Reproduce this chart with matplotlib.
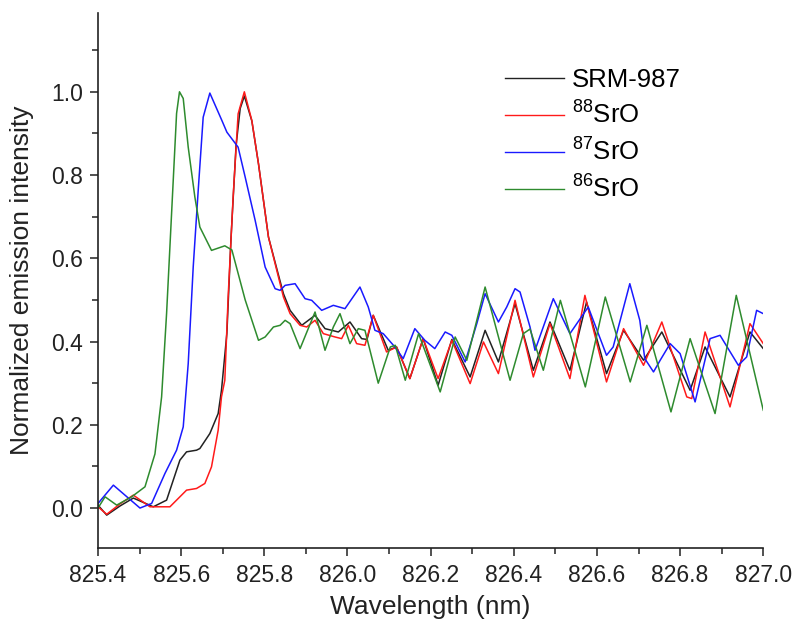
import matplotlib
matplotlib.use('Agg')
import matplotlib.pyplot as plt
from matplotlib.ticker import MultipleLocator

plt.rcParams['font.family'] = ['Liberation Sans', 'DejaVu Sans']
plt.rcParams['mathtext.fontset'] = 'custom'
plt.rcParams['mathtext.rm'] = 'Liberation Sans'
plt.rcParams['mathtext.it'] = 'Liberation Sans'

# SRM-987 (black)
x_srm = [825.400, 825.421, 825.453, 825.485, 825.533, 825.565, 825.597, 825.613, 825.637, 825.645,
         825.669, 825.689, 825.697, 825.710, 825.720, 825.732, 825.742, 825.752, 825.770, 825.786,
         825.810, 825.830, 825.846, 825.862, 825.890, 825.922, 825.946, 825.978, 826.006, 826.034,
         826.047, 826.062, 826.098, 826.118, 826.150, 826.182, 826.218, 826.251, 826.295, 826.331,
         826.363, 826.403, 826.447, 826.487, 826.535, 826.575, 826.623, 826.664, 826.712, 826.756,
         826.824, 826.860, 826.920, 826.968, 827.000]
y_srm = [0.007, -0.017, 0.005, 0.024, 0.003, 0.019, 0.115, 0.135, 0.139, 0.143,
         0.179, 0.227, 0.283, 0.420, 0.650, 0.870, 0.960, 0.990, 0.930, 0.827,
         0.651, 0.575, 0.515, 0.475, 0.439, 0.463, 0.431, 0.423, 0.447, 0.407,
         0.405, 0.463, 0.379, 0.387, 0.311, 0.407, 0.295, 0.405, 0.315, 0.427,
         0.351, 0.491, 0.331, 0.447, 0.331, 0.495, 0.323, 0.427, 0.355, 0.423,
         0.283, 0.387, 0.267, 0.423, 0.383]

# 88SrO (red)
x_88 = [825.400, 825.421, 825.453, 825.485, 825.525, 825.573, 825.597, 825.613, 825.637, 825.657,
        825.673, 825.689, 825.697, 825.705, 825.713, 825.725, 825.737, 825.752, 825.770, 825.786,
        825.810, 825.830, 825.846, 825.862, 825.886, 825.902, 825.922, 825.942, 825.970, 825.986,
        826.002, 826.022, 826.042, 826.062, 826.094, 826.118, 826.150, 826.182, 826.218, 826.251,
        826.295, 826.327, 826.363, 826.403, 826.447, 826.487, 826.535, 826.571, 826.623, 826.664,
        826.712, 826.756, 826.816, 826.828, 826.860, 826.920, 826.968, 827.000]
y_88 = [0.003, -0.015, 0.010, 0.031, 0.003, 0.003, 0.027, 0.043, 0.047, 0.059,
        0.099, 0.187, 0.267, 0.307, 0.507, 0.747, 0.947, 1.000, 0.931, 0.827,
        0.651, 0.571, 0.507, 0.467, 0.439, 0.435, 0.451, 0.419, 0.411, 0.407,
        0.439, 0.395, 0.391, 0.463, 0.375, 0.387, 0.311, 0.407, 0.311, 0.403,
        0.299, 0.399, 0.323, 0.499, 0.315, 0.443, 0.311, 0.511, 0.303, 0.431,
        0.343, 0.447, 0.267, 0.263, 0.423, 0.243, 0.443, 0.395]

# 87SrO (blue)
x_87 = [825.400, 825.437, 825.473, 825.501, 825.529, 825.561, 825.589, 825.605, 825.617, 825.629,
        825.641, 825.653, 825.669, 825.698, 825.710, 825.737, 825.754, 825.778, 825.802, 825.826,
        825.838, 825.850, 825.874, 825.898, 825.914, 825.938, 825.966, 825.994, 826.030, 826.050,
        826.066, 826.086, 826.114, 826.134, 826.162, 826.186, 826.210, 826.235, 826.251, 826.283,
        826.311, 826.331, 826.363, 826.383, 826.403, 826.415, 826.439, 826.451, 826.495, 826.535,
        826.579, 826.623, 826.639, 826.679, 826.703, 826.715, 826.736, 826.752, 826.776, 826.800,
        826.836, 826.872, 826.896, 826.940, 826.960, 826.984, 827.000]
y_87 = [0.011, 0.055, 0.024, 0.000, 0.011, 0.083, 0.139, 0.195, 0.347, 0.579,
        0.763, 0.939, 0.997, 0.931, 0.903, 0.867, 0.795, 0.691, 0.579, 0.527,
        0.523, 0.535, 0.539, 0.503, 0.499, 0.475, 0.487, 0.479, 0.531, 0.483,
        0.427, 0.419, 0.387, 0.359, 0.431, 0.403, 0.383, 0.423, 0.415, 0.351,
        0.443, 0.515, 0.447, 0.483, 0.527, 0.519, 0.435, 0.379, 0.503, 0.419,
        0.483, 0.367, 0.387, 0.539, 0.451, 0.359, 0.327, 0.355, 0.395, 0.371,
        0.255, 0.407, 0.415, 0.343, 0.363, 0.475, 0.467]

# 86SrO (green)
x_86 = [825.400, 825.417, 825.445, 825.481, 825.513, 825.537, 825.553, 825.565, 825.577, 825.589,
        825.596, 825.605, 825.617, 825.633, 825.645, 825.673, 825.705, 825.722, 825.754, 825.786,
        825.802, 825.822, 825.838, 825.850, 825.862, 825.886, 825.922, 825.946, 825.966, 825.982,
        826.006, 826.026, 826.042, 826.074, 826.103, 826.115, 826.139, 826.171, 826.223, 826.259,
        826.287, 826.331, 826.391, 826.423, 826.439, 826.471, 826.512, 826.572, 826.620, 826.680,
        826.720, 826.778, 826.824, 826.884, 826.935, 827.000]
y_86 = [0.000, 0.027, 0.007, 0.027, 0.051, 0.130, 0.267, 0.468, 0.708, 0.948,
        1.000, 0.984, 0.867, 0.747, 0.675, 0.619, 0.630, 0.620, 0.500, 0.403,
        0.411, 0.435, 0.439, 0.451, 0.443, 0.383, 0.471, 0.379, 0.435, 0.467,
        0.395, 0.431, 0.427, 0.300, 0.387, 0.391, 0.307, 0.419, 0.279, 0.411,
        0.355, 0.531, 0.307, 0.419, 0.430, 0.331, 0.499, 0.291, 0.507, 0.303,
        0.439, 0.231, 0.407, 0.227, 0.511, 0.235]

fig = plt.figure(figsize=(7.96, 6.3), dpi=100, facecolor='white')
ax = fig.add_axes([0.1231, 0.1295, 0.9589 - 0.1231, 0.9798 - 0.1295])

lw = 1.1
ax.plot(x_srm, y_srm, color='#222222', lw=lw, label='SRM-987')
ax.plot(x_88, y_88, color='#ff1a1a', lw=lw, label=r'$^{88}$SrO')
ax.plot(x_87, y_87, color='#1a1aff', lw=lw, label=r'$^{87}$SrO')
ax.plot(x_86, y_86, color='#2e8b2e', lw=lw, label=r'$^{86}$SrO')

ax.set_xlim(825.4, 827.0)
ax.set_ylim(-0.097, 1.19)
ax.xaxis.set_major_locator(MultipleLocator(0.2))
ax.xaxis.set_minor_locator(MultipleLocator(0.1))
ax.yaxis.set_major_locator(MultipleLocator(0.2))
ax.yaxis.set_minor_locator(MultipleLocator(0.1))
ax.xaxis.set_major_formatter(matplotlib.ticker.FormatStrFormatter('%.1f'))
ax.yaxis.set_major_formatter(matplotlib.ticker.FormatStrFormatter('%.1f'))

for s in ['top', 'right']:
    ax.spines[s].set_visible(False)
for s in ['left', 'bottom']:
    ax.spines[s].set_linewidth(1.2)
    ax.spines[s].set_color('#222222')

ax.tick_params(which='major', direction='out', length=6, width=1.1, labelsize=16.5,
               colors='#222222', pad=5)
ax.tick_params(which='minor', direction='out', length=4, width=1.1, colors='#222222')

ax.set_xlabel('Wavelength (nm)', fontsize=19, color='#222222', labelpad=6)
ax.set_ylabel('Normalized emission intensity', fontsize=19, color='#222222', labelpad=12)

leg = ax.legend(loc='upper left', bbox_to_anchor=(505 / 796, 1 - 68 / 630),
                bbox_transform=fig.transFigure, frameon=False, fontsize=18.5,
                handlelength=2.3, handletextpad=0.3, labelspacing=0.38, borderpad=0,
                borderaxespad=0)
for line in leg.get_lines():
    line.set_linewidth(1.0)

fig.savefig('out.png', dpi=100, facecolor='white')
